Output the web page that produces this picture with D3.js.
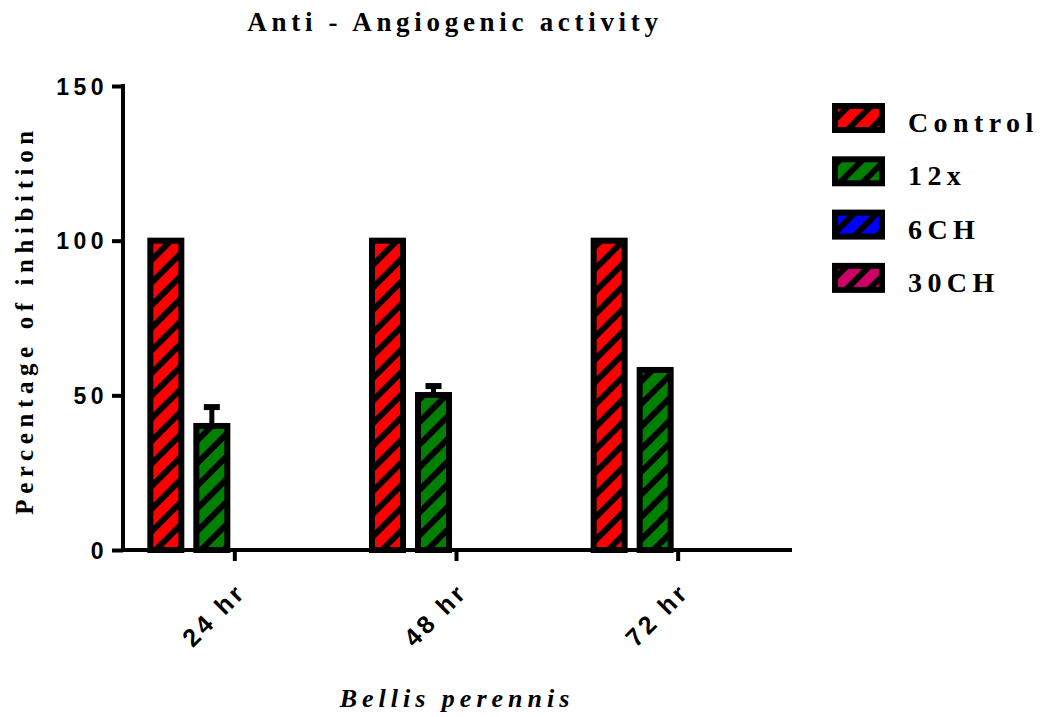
<!DOCTYPE html>
<html><head><meta charset="utf-8">
<script src="https://cdn.jsdelivr.net/npm/d3@7"></script>
<style>body{margin:0;background:#fff}svg{display:block}</style>
</head><body>
<script>
const categories = ["24 hr", "48 hr", "72 hr"];
const seriesNames = ["Control", "12x", "6CH", "30CH"];
const seriesColors = ["#ff0000", "#008000", "#0000ff", "#cc0066"];
const controlValues = [100, 100, 100];
const x12Values = [40.1, 50.1, 58.2];
const x12Errors = [6.1, 2.9, 0];
const ch6Values = [0, 0, 0];
const ch30Values = [0, 0, 0];
const yTicks = [0, 50, 100, 150];

const values = [controlValues, x12Values, ch6Values, ch30Values];
const errors = [null, x12Errors, null, null];

const W = 1046, H = 717;
const svg = d3.select("body").append("svg").attr("width", W).attr("height", H);
const defs = svg.append("defs");
seriesNames.forEach((s, i) => {
  const p = defs.append("pattern").attr("id", "hatch" + i)
    .attr("patternUnits", "userSpaceOnUse").attr("width", 16).attr("height", 16)
    .attr("patternTransform", "rotate(45)");
  p.append("rect").attr("width", 16).attr("height", 16).attr("fill", seriesColors[i]);
  p.append("rect").attr("x", 0).attr("width", 6).attr("height", 16).attr("fill", "#000");
});

const y = d3.scaleLinear().domain([0, 150]).range([550, 86]);
const x0 = d3.scaleBand().domain(categories).range([124, 789]).padding(0);
const groupW = 184;
const x1 = d3.scaleBand().domain(seriesNames).range([0, groupW]).paddingInner(0.326).paddingOuter(0.163);

const sw = 6;
const g = svg.append("g");
categories.forEach((c, ci) => {
  const gx = x0(c) + x0.bandwidth() / 2 - groupW / 2;
  seriesNames.forEach((s, si) => {
    const v = values[si][ci];
    if (v <= 0) return;
    const bx = gx + x1(s);
    const bw = x1.bandwidth();
    const e = errors[si] ? errors[si][ci] : 0;
    if (e > 0) {
      const cx = bx + bw / 2;
      g.append("line").attr("x1", cx).attr("x2", cx).attr("y1", y(v)).attr("y2", y(v + e))
        .attr("stroke", "#000").attr("stroke-width", 5);
      g.append("line").attr("x1", cx - 8).attr("x2", cx + 8).attr("y1", y(v + e)).attr("y2", y(v + e))
        .attr("stroke", "#000").attr("stroke-width", 6);
    }
    g.append("rect").attr("x", bx).attr("y", y(v)).attr("width", bw).attr("height", y(0) - y(v))
      .attr("fill", "url(#hatch" + si + ")").attr("stroke", "#000").attr("stroke-width", sw);
  });
});

// Y axis
const yAxis = svg.append("g").attr("transform", "translate(123,0)")
  .call(d3.axisLeft(y).tickValues(yTicks).tickSize(11).tickSizeOuter(0).tickPadding(8));
yAxis.select(".domain").attr("stroke-width", 4).attr("d", "M0,550V84");
yAxis.selectAll(".tick line").attr("stroke-width", 4);
yAxis.selectAll(".tick text").attr("font-family", "Liberation Sans, Arial, sans-serif")
  .attr("font-weight", "bold").attr("font-size", 23).attr("letter-spacing", 4.5)
  .attr("dx", 4).attr("dy", "0.36em").attr("fill", "#000");

// X axis
const xAxis = svg.append("g").attr("transform", "translate(0,550)")
  .call(d3.axisBottom(x0).tickSize(11).tickSizeOuter(0));
xAxis.select(".domain").attr("stroke-width", 4).attr("d", "M121,0H792");
xAxis.selectAll(".tick line").attr("stroke-width", 4);
xAxis.selectAll(".tick text").attr("font-family", "Liberation Sans, Arial, sans-serif")
  .attr("font-weight", "bold").attr("font-size", 25).attr("letter-spacing", 3.5).attr("fill", "#000")
  .attr("text-anchor", "end").attr("dy", null).attr("y", 0).attr("dx", 3.5)
  .attr("transform", "translate(10,46) rotate(-45)");

// Title
svg.append("text").attr("x", 455).attr("y", 31).attr("text-anchor", "middle")
  .attr("font-family", "Liberation Serif, Times New Roman, serif").attr("font-weight", "bold")
  .attr("font-size", 27).attr("letter-spacing", 4.7).text("Anti - Angiogenic activity");

// Y label
svg.append("text").attr("transform", "translate(33,320) rotate(-90)").attr("text-anchor", "middle")
  .attr("font-family", "Liberation Serif, Times New Roman, serif").attr("font-weight", "bold")
  .attr("font-size", 25).attr("letter-spacing", 5.6).text("Percentage of inhibition");

// X label
svg.append("text").attr("x", 457).attr("y", 707).attr("text-anchor", "middle")
  .attr("font-family", "Liberation Serif, Times New Roman, serif").attr("font-weight", "bold")
  .attr("font-style", "italic").attr("font-size", 26).attr("letter-spacing", 5).text("Bellis perennis");

// Legend
const leg = svg.append("g");
seriesNames.forEach((s, i) => {
  const ty = 103 + i * 53.3;
  leg.append("rect").attr("x", 835).attr("y", ty + 3).attr("width", 47).attr("height", 24)
    .attr("fill", "url(#hatch" + i + ")").attr("stroke", "#000").attr("stroke-width", 6);
  leg.append("text").attr("x", 908).attr("y", ty + 29)
    .attr("font-family", "Liberation Serif, Times New Roman, serif").attr("font-weight", "bold")
    .attr("font-size", 28).attr("letter-spacing", 5.4).text(s);
});
</script>
</body></html>
